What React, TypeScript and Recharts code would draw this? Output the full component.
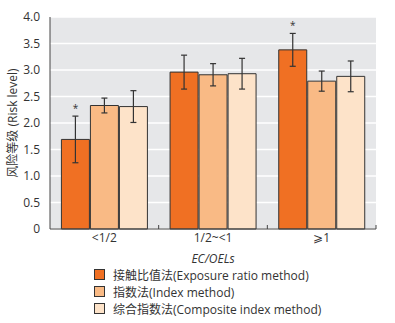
import React from "react";
import {
  BarChart,
  Bar,
  XAxis,
  YAxis,
  CartesianGrid,
  ErrorBar,
  LabelList,
} from "recharts";

const categories = ["<1/2", "1/2~<1", "⩾1"];
const exposureValues = [1.69, 2.96, 3.38];
const exposureErrors = [0.44, 0.32, 0.31];
const indexValues = [2.33, 2.91, 2.79];
const indexErrors = [0.14, 0.21, 0.19];
const compositeValues = [2.31, 2.93, 2.88];
const compositeErrors = [0.3, 0.29, 0.29];
const significant = [true, false, true];
const yTicks = [0, 0.5, 1, 1.5, 2, 2.5, 3, 3.5, 4];

const seriesNames = [
  "接触比值法(Exposure ratio method)",
  "指数法(Index method)",
  "综合指数法(Composite index method)",
];
const colors = ["#F07023", "#F9BA85", "#FDE3C9"];

const data = categories.map((name, i) => ({
  name,
  exposure: exposureValues[i],
  exposureErr: exposureErrors[i],
  index: indexValues[i],
  indexErr: indexErrors[i],
  composite: compositeValues[i],
  compositeErr: compositeErrors[i],
}));

const font = "'Open Sans', 'Noto Sans CJK SC', sans-serif";
const TICK_MARGIN = 4;

const Star = (props: any) => {
  const { x, y, width, height, value, index } = props;
  if (!significant[index]) return null;
  const err = exposureErrors[index];
  const top = y - (err * height) / value;
  return (
    <text
      x={x + width / 2}
      y={top - 4}
      textAnchor="middle"
      fontSize={10}
      fill="#333"
      fontFamily={font}
    >
      *
    </text>
  );
};

// category label plus a small upward tick at the right edge of each band
const CategoryTick = (props: any) => {
  const { x, y, payload } = props;
  const half = payload.offset || 54;
  const axisY = y - TICK_MARGIN;
  return (
    <g>
      <text
        x={x}
        y={y}
        dy="0.71em"
        textAnchor="middle"
        fill="#333"
        fontSize={12}
        fontFamily={font}
      >
        {payload.value}
      </text>
      <line x1={x + half} x2={x + half} y1={axisY} y2={axisY - 4} stroke="#444" />
    </g>
  );
};

const App: React.FC = () => {
  return (
    <div style={{ position: "relative", width: 395, height: 323, fontFamily: font }}>
      <style>{"body{margin:0}"}</style>
      <BarChart
        width={395}
        height={323}
        data={data}
        margin={{ top: 17, right: 19, left: 0, bottom: 64 }}
        barCategoryGap="10.5%"
        barGap={1}
      >
        <CartesianGrid
          vertical={false}
          stroke="#FFFFFF"
          strokeWidth={1.5}
          fill="#E6E7E9"
        />
        <XAxis
          dataKey="name"
          axisLine={{ stroke: "#444" }}
          tickLine={false}
          tickSize={0}
          tickMargin={TICK_MARGIN}
          tick={<CategoryTick />}
          label={{
            value: "EC/OELs",
            position: "insideBottom",
            offset: -4,
            fill: "#333",
            fontSize: 12,
            fontStyle: "italic",
            fontFamily: font,
          }}
        />
        <YAxis
          domain={[0, 4]}
          ticks={yTicks}
          width={50}
          axisLine={{ stroke: "#444" }}
          tickLine={false}
          tickMargin={4}
          tickFormatter={(v: number) => (v === 0 ? "0" : v.toFixed(1))}
          tick={{ fill: "#333", fontSize: 12, fontFamily: font }}
          label={{
            value: "风险等级 (Risk level)",
            angle: -90,
            position: "insideLeft",
            offset: 13,
            style: { textAnchor: "middle" },
            fill: "#333",
            fontSize: 12,
            fontFamily: font,
          }}
        />
        <Bar dataKey="exposure" fill={colors[0]} stroke="#333" strokeWidth={1} isAnimationActive={false}>
          <ErrorBar dataKey="exposureErr" width={3} stroke="#333" strokeWidth={1.2} />
          <LabelList dataKey="exposure" content={Star} />
        </Bar>
        <Bar dataKey="index" fill={colors[1]} stroke="#333" strokeWidth={1} isAnimationActive={false}>
          <ErrorBar dataKey="indexErr" width={3} stroke="#333" strokeWidth={1.2} />
        </Bar>
        <Bar dataKey="composite" fill={colors[2]} stroke="#333" strokeWidth={1} isAnimationActive={false}>
          <ErrorBar dataKey="compositeErr" width={3} stroke="#333" strokeWidth={1.2} />
        </Bar>
      </BarChart>
      <div style={{ position: "absolute", left: 94, top: 266 }}>
        {seriesNames.map((n, i) => (
          <div
            key={n}
            style={{ display: "flex", alignItems: "center", height: 17, fontSize: 12, color: "#333" }}
          >
            <span
              style={{
                width: 9,
                height: 9,
                background: colors[i],
                border: "1px solid #333",
                marginRight: 8,
              }}
            />
            {n}
          </div>
        ))}
      </div>
    </div>
  );
};

export default App;
